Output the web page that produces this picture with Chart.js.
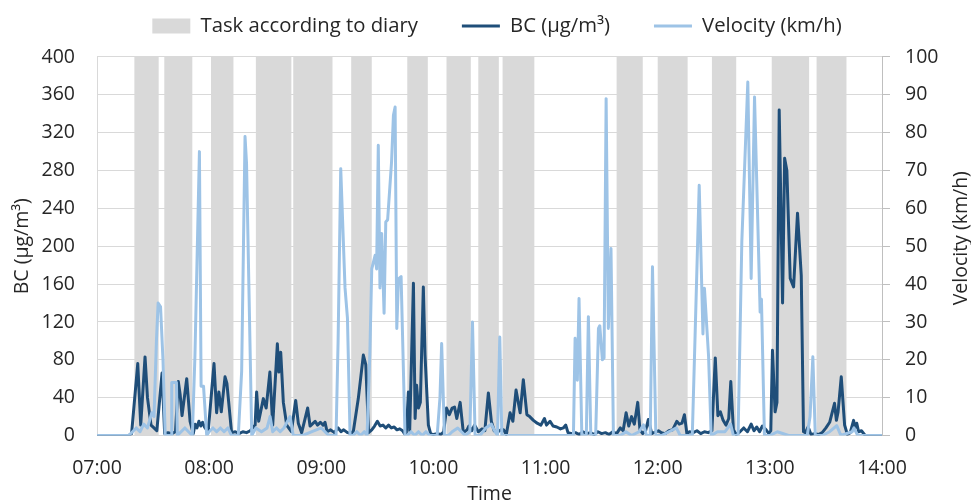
<!DOCTYPE html>
<html>
<head>
<meta charset="utf-8">
<title>BC and velocity</title>
<script src="https://cdn.jsdelivr.net/npm/chart.js@4.4.1/dist/chart.umd.min.js"></script>
<style>
  body { margin: 0; background: #fff; }
  #wrap { width: 971px; height: 504px; }
</style>
</head>
<body>
<div id="wrap"><canvas id="chart"></canvas></div>
<script>
// x values are minutes after 07:00
const timeLabels = ["07:00", "08:00", "09:00", "10:00", "11:00", "12:00", "13:00", "14:00"];

const taskStart = ["07:20", "07:36", "08:01", "08:25", "08:45", "09:16", "09:46", "10:07", "10:24", "10:37", "11:38", "12:00", "12:29", "13:01", "13:25"];
const taskEnd   = ["07:33", "07:51", "08:13", "08:44", "09:06", "09:27", "09:57", "10:20", "10:35", "10:54", "11:52", "12:16", "12:42", "13:21", "13:41"];

const bcMinutes = [0, 17, 18.5, 21.8, 23.4, 25.7, 27, 28.9, 30.5, 32, 34.8, 36.2, 38, 40, 42, 43.5, 44.5, 45.5, 48, 49.8,
  51.5, 52.5, 53.5, 54.5, 55.5, 56.5, 57.5, 59.5, 62.6, 64, 65.2, 66.5, 68.5, 69.5, 72, 74, 76, 78, 80, 82,
  84.6, 85.4, 86.5, 89, 90.5, 92.5, 94, 96.5, 97.3, 98.3, 99.7, 101.5, 104, 106.3, 107.7, 109.5, 112.7, 114, 116.7, 118,
  119.5, 121, 122, 123.1, 125, 127, 129, 130.5, 132, 134, 136, 137.2, 139.8, 142.5, 143.8, 145.3, 147, 148.5, 150, 151.5,
  153, 154.5, 156, 157.5, 159, 160.5, 162, 163.5, 164.5, 165.5, 166.6, 167.3, 169.3, 170.2, 171, 172, 173, 174.6, 175.5, 177.3,
  178.5, 180, 182, 184, 185.5, 187, 188.5, 190, 191.3, 192.5, 194.3, 196, 198, 199, 200.5, 202, 204, 206, 207.5, 209.4,
  211, 212.5, 214, 216, 217.5, 219, 221, 222.5, 224.2, 226.4, 228.1, 230, 231.5, 233.5, 235.5, 237.5, 239.4, 240.5, 242.4, 244,
  246, 248, 249.5, 250.8, 252, 254, 256, 258, 260, 262, 264, 266, 268, 270, 272, 274, 276, 278, 280, 281.5,
  283.1, 284.5, 286, 287.5, 289.3, 290.5, 292, 293.5, 295, 296.8, 298, 300.4, 302, 304, 306, 308, 310.2, 311.5, 313, 314.3,
  315.6, 317, 319, 321, 323, 325, 327, 329, 330.8, 332.2, 333.5, 335, 336.5, 338, 339.1, 340.5, 342, 344, 346, 348,
  350, 351.5, 353, 354.5, 356, 358, 359.5, 360.5, 361.4, 362.8, 363.8, 365, 366.8, 367.9, 369.1, 370.9, 372.7, 374.8, 376.8, 378,
  379, 380.5, 382, 384, 386, 388, 390, 392, 394.6, 395.6, 396.5, 398.2, 400, 401.5, 403, 404.8, 405.5, 406.5, 407.5, 409,
  411, 420];
const bcValues = [0, 0, 2, 76, 11, 83, 40, 11, 8, 5, 66, 2, 3, 2, 4, 57, 43, 21, 60, 15,
  2, 12, 8, 15, 10, 14, 9, 4, 76, 24, 46, 25, 62, 55, 3, 4, 2, 4, 3, 5,
  11, 46, 15, 39, 29, 67, 11, 97, 67, 88, 35, 11, 4, 37, 13, 3, 29, 10, 15, 11,
  14, 11, 14, 4, 6, 3, 8, 4, 6, 3, 2, 5, 39, 85, 75, 3, 6, 10, 15, 10,
  11, 8, 11, 8, 9, 6, 7, 5, 2, 3, 46, 5, 161, 18, 53, 29, 35, 157, 85, 11,
  2, 1, 2, 1, 4, 29, 22, 29, 30, 18, 35, 3, 6, 10, 5, 11, 4, 7, 5, 45,
  15, 5, 3, 6, 6, 1, 24, 15, 48, 24, 59, 22, 20, 16, 13, 11, 18, 11, 15, 10,
  9, 7, 8, 11, 3, 2, 3, 1, 4, 2, 3, 1, 4, 2, 3, 1, 4, 2, 8, 5,
  24, 10, 20, 12, 35, 6, 2, 5, 17, 2, 3, 5, 3, 2, 5, 6, 15, 12, 13, 22,
  2, 4, 3, 5, 2, 4, 3, 5, 82, 21, 25, 16, 11, 18, 57, 6, 1, 4, 8, 4,
  12, 5, 9, 4, 10, 6, 2, 5, 90, 25, 35, 344, 140, 293, 280, 166, 157, 235, 169, 4,
  3, 9, 1, 2, 1, 3, 8, 14, 34, 16, 25, 62, 11, 1, 3, 16, 8, 13, 4, 5,
  0, 0];

const velMinutes = [0, 17, 19, 21, 23, 25, 27, 29.3, 30.5, 31.8, 32.7, 34, 35.3, 36.5, 39.7, 40, 42.5, 43, 45, 47,
  49, 51, 52.4, 54.8, 55.7, 57, 58.7, 60, 62, 64, 66, 68, 70, 72, 75.6, 77.4, 79.2, 80, 82.8, 85,
  88, 91, 92.6, 94, 96, 98, 100, 103.3, 105, 110, 115, 120, 122, 124, 127.9, 129, 130.4, 132.7, 134, 135.4,
  137, 139, 141, 143, 144.5, 146, 147, 148.8, 149.6, 150.5, 151.4, 152.3, 153.6, 154.5, 155.5, 157.6, 158.6, 159.5, 160.4, 161.3,
  162.7, 164.8, 166, 168, 170, 172, 174, 176, 178, 182, 183.5, 184.4, 185.9, 188, 190, 193, 195, 197, 199.5, 200.9,
  202.3, 205, 208, 211, 213, 214.3, 215.5, 216.6, 254.9, 255.8, 257, 257.9, 259.4, 261.8, 262.9, 264.2, 266.8, 268.3, 269, 270.4,
  271.3, 272.4, 273.6, 275, 276.3, 280, 283, 286, 290, 292.4, 294, 296, 297.2, 299, 302, 306, 310, 312, 318.5, 320,
  322.2, 324.2, 325, 327.2, 328.6, 332, 336, 339, 340.5, 343, 345, 348.2, 350, 351.8, 354.8, 355.5, 357.1, 360, 364, 370,
  380, 381.5, 383, 384.3, 388, 392, 395.8, 398, 404, 405, 407, 420];
const velValues = [0, 0, 1, 2, 1, 3, 2, 6, 5, 25, 35, 34, 20, 0, 0, 14, 14, 0, 1, 2,
  1, 0, 21, 75, 13, 13, 0, 1, 2, 1, 2, 1, 2, 0, 0, 17, 79, 72, 0, 2,
  1, 2, 5, 1, 2, 1, 2, 5, 0, 0, 1, 2, 1, 0, 0, 25, 70.5, 39, 31, 0,
  0, 1, 0, 1, 0, 22, 44, 47.6, 44, 76.7, 39, 53.4, 32.3, 56.4, 57, 72.3, 84.6, 86.8, 28.3, 41.4,
  42, 0, 0, 1, 0, 1, 0, 1, 0, 0, 10, 24.3, 0, 0, 1, 2, 1, 0, 1, 30,
  0, 0, 2, 3, 1, 0, 26, 0, 0, 25.7, 14.6, 36.2, 0, 0, 31.4, 0, 0, 28.3, 29, 20,
  20.5, 89, 28.3, 49.4, 0, 0, 1, 0, 1, 2.8, 0, 0, 44.6, 0, 0, 1, 2, 0, 0, 26.5,
  66.1, 26.8, 38.9, 21, 0, 1, 1, 3, 0, 0, 51.2, 93.4, 41.5, 89.4, 32.6, 36, 0, 0, 1, 0,
  0, 5, 20.8, 0, 0, 1, 2.6, 0, 1, 2, 0, 0];

const BC_MAX = 400;

function toMinutes(hhmm) {
  const [h, m] = hhmm.split(":").map(Number);
  return h * 60 + m - 7 * 60;
}

// square wave: full height while a diary task is running
const taskPoints = [{ x: 0, y: 0 }];
taskStart.forEach((s, i) => {
  taskPoints.push({ x: toMinutes(s), y: BC_MAX });
  taskPoints.push({ x: toMinutes(taskEnd[i]), y: 0 });
});
taskPoints.push({ x: 420, y: 0 });

const bcPoints = bcMinutes.map((t, i) => ({ x: t, y: bcValues[i] }));
const velPoints = velMinutes.map((t, i) => ({ x: t, y: velValues[i] }));

Chart.defaults.font.family = "'Open Sans', sans-serif";
Chart.defaults.font.size = 19.5;
Chart.defaults.color = "#262626";

// extra room between legend and plot
const legendGap = {
  id: "legendGap",
  beforeInit(chart) {
    const fit = chart.legend.fit;
    chart.legend.fit = function () {
      fit.call(this);
      this.height += 10.85;
    };
  }
};

// right axis title, reading bottom to top like the left one
const rightTitle = {
  id: "rightTitle",
  afterDraw(chart) {
    const { ctx, chartArea } = chart;
    ctx.save();
    ctx.translate(chart.width - 10, (chartArea.top + chartArea.bottom) / 2 - 8);
    ctx.rotate(-Math.PI / 2);
    ctx.font = "19.5px 'Open Sans', sans-serif";
    ctx.fillStyle = "#262626";
    ctx.textAlign = "center";
    ctx.textBaseline = "middle";
    ctx.fillText("Velocity (km/h)", 0, 0);
    ctx.restore();
  }
};

new Chart(document.getElementById("chart"), {
  type: "line",
  data: {
    datasets: [
      {
        label: "Task according to diary",
        data: taskPoints,
        yAxisID: "y",
        stepped: true,
        fill: "origin",
        backgroundColor: "#d9d9d9",
        borderColor: "#d9d9d9",
        borderWidth: 0,
        pointRadius: 0,
        pointBorderWidth: 0,
        pointStyle: "rect",
        order: 2
      },
      {
        label: "BC (µg/m³)",
        data: bcPoints,
        yAxisID: "y",
        borderColor: "#1f4e79",
        backgroundColor: "#1f4e79",
        borderWidth: 3,
        pointBorderWidth: 3,
        pointRadius: 0,
        pointStyle: "line",
        tension: 0,
        borderJoinStyle: "round",
        order: 1
      },
      {
        label: "Velocity (km/h)",
        data: velPoints,
        yAxisID: "y2",
        borderColor: "#9dc3e6",
        backgroundColor: "#9dc3e6",
        borderWidth: 3,
        pointBorderWidth: 3,
        pointRadius: 0,
        pointStyle: "line",
        tension: 0,
        borderJoinStyle: "round",
        order: 0
      }
    ]
  },
  options: {
    responsive: true,
    maintainAspectRatio: false,
    animation: false,
    layout: { padding: { top: -28.15, right: -23, left: 0, bottom: 0 } },
    plugins: {
      tooltip: { enabled: false },
      legend: {
        position: "top",
        labels: {
          usePointStyle: true,
          pointStyleWidth: 38,
          boxHeight: 15,
          padding: 44,
          color: "#262626",
          font: { size: 20.3 },
          sort: (a, b) => a.datasetIndex - b.datasetIndex
        }
      }
    },
    scales: {
      x: {
        type: "linear",
        min: 0,
        max: 420,
        grid: { display: false },
        border: { color: "#d9d9d9" },
        ticks: {
          stepSize: 60,
          padding: 13,
          maxRotation: 0,
          callback: (v) => timeLabels[v / 60]
        },
        title: {
          display: true,
          text: "Time",
          padding: { top: 0, bottom: 0 },
          font: { lineHeight: 1 }
        },
        afterFit: (s) => { s.height = 68.5; }
      },
      y: {
        position: "left",
        min: 0,
        max: BC_MAX,
        grid: { color: "#d9d9d9", drawTicks: false },
        border: { color: "#d9d9d9" },
        ticks: { stepSize: 40, padding: 22 },
        title: {
          display: true,
          text: "BC (µg/m³)",
          padding: { top: 13, bottom: 0 },
          font: { lineHeight: 1 }
        },
        afterFit: (s) => { s.width = 97; }
      },
      y2: {
        position: "right",
        min: 0,
        max: 100,
        grid: { drawOnChartArea: false, drawTicks: true, tickLength: 8, color: "#bfbfbf" },
        border: { color: "#bfbfbf" },
        ticks: { stepSize: 10, padding: 15 },
        afterFit: (s) => { s.width = 112; }
      }
    }
  },
  plugins: [legendGap, rightTitle]
});
</script>
</body>
</html>
